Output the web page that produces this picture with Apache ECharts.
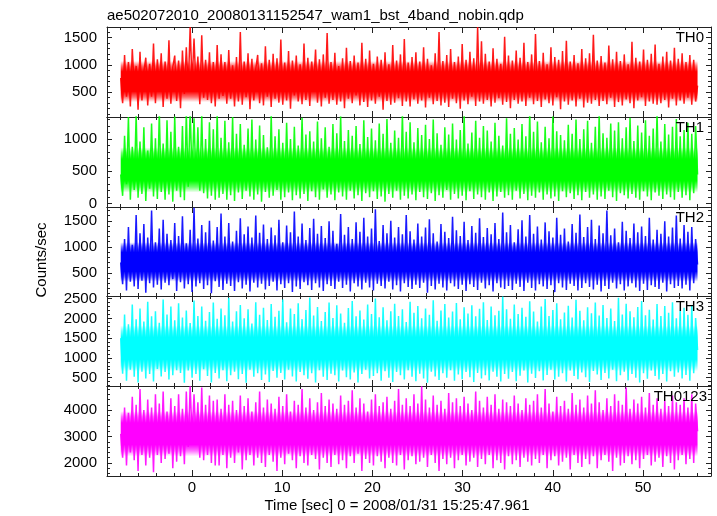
<!DOCTYPE html>
<html><head><meta charset="utf-8">
<script src="https://cdn.jsdelivr.net/npm/echarts@6/dist/echarts.min.js"></script>
<style>html,body{margin:0;padding:0;background:#fff}#c{width:717px;height:516px}</style>
</head><body><div id="c"></div>
<script>
// ---------- data ----------
const T_START = -7.9, T_END = 56.05;          // first / last time bin [s]
const X_MIN = -9.42, X_MAX = 57.54;           // x-axis extent [s]
const xMajorTicks = [0, 10, 20, 30, 40, 50];
const xMinorTicks = [-8,-6,-4,-2,2,4,6,8,12,14,16,18,22,24,26,28,32,34,36,38,42,44,46,48,52,54,56];

const panelNames = ['TH0', 'TH1', 'TH2', 'TH3', 'TH0123'];
const yRanges = [[48, 1690], [-53, 1340], [55, 1766], [288, 2566], [1506, 4912]];
const yMajorTicks = [[500,1000,1500],[0,500,1000],[500,1000,1500],[500,1000,1500,2000,2500],[2000,3000,4000]];
const yMinorStep = [100, 100, 100, 100, 200];

// dense (saturated) core of each light curve, with faded edges
const coreT = [-7.9, 56.05];
const coreLo = [[320,320],[170,170],[330,330],[660,660],[2250,2250]];
const coreHi = [[1070,1070],[870,870],[1090,1090],[1820,1820],[3960,3960]];

// sampled counts/sec traces
const th0 = [760,300,1180,420,1050,240,1290,610,980,180,
 1240,350,870,1130,260,1020,420,1390,300,1100,
 520,1210,230,1060,380,1450,290,960,1170,340,
 1080,210,1260,470,1320,560,1690,650,1480,600,
 1150,280,1540,400,1090,360,1230,300,1050,240,
 1360,380,1190,430,1050,290,1270,380,990,240,
 1140,330,1600,270,1060,410,1210,190,1110,350,
 920,1180,300,1030,260,1340,420,1090,230,1200,
 380,1120,310,1460,270,1040,350,1250,200,1080,
 440,1170,330,1010,280,1390,360,1130,250,1060,
 620,1280,310,1100,240,1190,400,1580,290,1050,
 360,1220,270,980,330,1120,210,1310,380,1070,
 300,1170,440,1040,260,1400,320,1110,230,1260,
 350,1020,290,1150,420,1090,180,1230,340,1010,
 270,1360,310,1080,390,1190,250,1470,330,1040,
 240,1140,370,1230,290,1060,350,1320,220,1110,
 400,990,280,1210,340,1600,260,1070,310,1180,
 230,1290,380,1050,300,1150,200,1380,350,1090,
 280,1240,420,1120,250,1690,330,1430,290,1200,
 360,1060,240,1300,310,1110,390,1020,270,1510,
 320,1170,210,1080,360,1260,290,1130,330,1400,
 250,1050,400,1190,280,1560,340,1070,230,1220,
 370,1010,300,1320,260,1140,410,1090,190,1250,
 330,1440,270,1060,350,1180,240,1030,380,1290,
 220,1120,310,1210,290,1550,360,1080,250,1160,
 340,1040,280,1350,400,1100,230,1240,320,1070,
 260,1190,370,1010,300,1420,210,1130,350,1060,
 410,1280,250,1090,330,1200,290,1370,270,1020,
 300,1150,360,1240,220,1080,380,1310,260,1110,
 350,1210,290,1050,400,1180,270,1090,330,620];
const th1 = [450,120,1050,300,1340,60,880,210,1380,90,
 960,150,1180,40,820,230,1240,110,1010,70,
 1420,180,930,60,1290,140,1110,30,1350,200,
 880,100,1200,50,1400,260,1450,420,1320,350,
 1180,200,1380,160,1000,80,1260,120,1150,60,
 1390,90,1020,150,1280,60,950,130,1340,40,
 1080,170,1230,70,910,200,1160,110,1300,60,
 990,140,1210,30,1060,180,870,90,1370,120,
 1040,210,1150,60,940,100,1250,170,1000,50,
 1190,130,900,80,1330,150,1070,40,1120,190,
 960,100,1270,60,1010,220,1180,90,880,140,
 1230,50,1090,170,1350,110,970,60,1140,200,
 1050,80,1200,130,920,40,1290,160,1030,100,
 1160,190,980,70,1240,110,1080,30,1310,150,
 940,90,1130,200,1020,60,1390,120,1110,80,
 1260,140,950,50,1170,180,1060,100,1220,70,
 1000,160,1300,40,1090,130,910,90,1180,210,
 1070,60,1240,150,990,80,1140,120,1360,50,
 930,190,1100,70,1280,140,1020,100,1200,60,
 1130,170,960,40,1250,110,1050,180,900,90,
 1320,130,1080,60,1170,200,990,80,1230,150,
 1040,50,1400,120,1110,90,1270,170,950,60,
 1190,140,1010,80,1350,110,1120,40,1060,190,
 980,100,1220,160,1080,70,1300,130,1000,50,
 1150,180,1280,90,940,140,1190,60,1370,110,
 1090,70,1020,200,1240,100,1130,40,1260,160,
 1010,130,1180,80,1330,150,970,90,1210,60,
 1100,190,1290,110,1050,50,1160,170,1400,120,
 960,70,1230,140,1070,100,1190,60,1310,180,
 1040,90,1140,130,1250,50,1080,160,1200,450];
const th2 = [700,280,1150,160,1380,330,1040,240,1610,190,
 1260,350,1440,120,1180,300,1700,220,1090,270,
 1350,180,1520,310,1250,260,1130,380,1460,150,
 1210,320,1590,200,1070,280,1330,130,1750,240,
 1160,300,1420,190,1280,260,1500,110,1120,340,
 1380,230,1640,170,1200,290,1460,250,1100,150,
 1310,320,1550,200,1240,270,1390,140,1180,310,
 1600,220,1270,290,1430,180,1150,250,1370,330,
 1220,160,1520,280,1090,210,1410,300,1280,130,
 1680,240,1200,190,1450,320,1130,260,1360,170,
 1540,300,1250,220,1400,150,1170,280,1490,250,
 1310,190,1060,330,1630,210,1230,270,1380,140,
 1150,300,1470,240,1290,180,1560,310,1200,220,
 1350,160,1720,290,1110,250,1420,200,1260,330,
 1500,180,1180,260,1380,140,1240,300,1610,230,
 1300,190,1140,270,1450,210,1200,310,1370,120,
 1530,250,1260,180,1100,290,1440,220,1290,160,
 1170,300,1580,240,1320,190,1210,270,1480,150,
 1130,280,1400,230,1270,170,1550,310,1190,200,
 1360,260,1240,140,1460,300,1150,220,1660,190,
 1280,250,1420,170,1090,290,1340,230,1510,150,
 1200,310,1610,210,1250,160,1390,280,1140,240,
 1470,190,1300,260,1180,130,1560,300,1230,220,
 1350,170,1100,290,1440,250,1270,160,1620,210,
 1190,300,1380,230,1520,180,1150,270,1410,140,
 1260,250,1700,190,1220,310,1350,200,1090,280,
 1480,160,1310,240,1170,300,1450,220,1280,150,
 1390,290,1210,170,1560,260,1140,230,1330,190,
 1250,310,1490,140,1200,280,1370,210,1600,250,
 1160,200,1420,270,1290,160,1380,300,1150,660];
const th3 = [1500,600,2100,420,1850,700,2350,520,1980,380,
 2250,650,1920,480,2420,590,2050,400,2180,720,
 1890,530,2480,640,2100,450,2300,560,1950,690,
 2380,620,2020,370,2200,680,1880,500,2450,590,
 2060,420,2300,710,1940,540,2160,380,2400,620,
 1990,480,2250,690,2080,410,2520,560,1920,650,
 2180,460,2340,590,2000,370,2230,700,1870,520,
 2410,610,2090,440,2270,580,1960,390,2360,670,
 2040,500,2190,620,2480,450,1900,700,2250,530,
 2110,400,2380,640,1980,560,2210,470,2530,610,
 2070,380,2290,690,1930,520,2160,440,2400,600,
 2010,560,2330,400,2120,680,1890,510,2260,450,
 2440,630,2050,380,2200,590,1970,700,2350,480,
 2110,540,2500,610,2030,420,2280,660,1950,500,
 2180,390,2370,640,2060,560,2230,450,1910,690,
 2420,520,2140,410,2310,600,2000,480,2250,370,
 2090,650,2460,530,1940,440,2200,610,2360,500,
 2020,690,2170,420,2390,580,1980,460,2280,640,
 2120,510,2330,390,2050,620,2240,480,2410,560,
 1960,430,2300,650,2080,520,2190,400,2550,590,
 2230,470,1990,640,2350,410,2110,550,2270,680,
 2040,380,2430,600,2170,490,1920,660,2300,430,
 2490,570,2060,700,2210,450,2380,520,1980,610,
 2150,400,2320,680,2020,540,2470,460,2190,630,
 1950,510,2280,390,2130,670,2400,580,2070,440,
 2340,620,2010,480,2250,700,1930,410,2520,560,
 2100,650,2370,430,2180,590,2030,500,2290,380,
 2440,610,2080,470,2220,680,1970,540,2360,450,
 2060,590,2310,400,2140,660,2410,520,2000,630,
 2200,480,2270,570,2090,420,2330,610,2010,1200];
const th0123 = [3100,2200,4100,1900,3900,2400,4500,2100,4200,1700,
 4800,2300,4000,1900,4400,2200,4100,1650,4600,2300,
 4250,2000,4700,2150,3950,2350,4450,1800,4150,2050,
 4600,2250,4050,1950,4700,2600,4900,3000,4600,2850,
 4300,2200,4850,2100,4200,2300,4550,2000,4350,1900,
 4400,1900,4050,2300,4600,1800,4200,2200,4350,2000,
 4000,2400,4550,1750,4150,2100,4450,2300,3950,1900,
 4300,2200,4700,2000,4100,1850,4400,2300,4250,2050,
 4050,1700,4500,2200,4150,1950,4600,2350,3950,2100,
 4350,1800,4200,2250,4800,2000,4100,1900,4450,2300,
 4000,2150,4300,1750,4650,2200,4150,2000,4400,1850,
 4250,2300,4050,1950,4550,2100,4200,1800,4350,2250,
 4750,2000,4100,2350,4450,1700,4250,2150,3950,2000,
 4400,1900,4600,2250,4150,2050,4300,1800,4500,2200,
 4050,2000,4350,1900,4800,2300,4200,1750,4450,2100,
 4150,2250,4600,1950,4250,2050,4900,2200,4400,1850,
 4100,2300,4550,2000,4200,1700,4350,2150,4050,1950,
 4650,2200,4300,1800,4450,2100,4150,2300,4500,1900,
 4250,2050,4000,2200,4700,1850,4350,2150,4100,1950,
 4500,2300,4200,1800,4600,2100,4050,2000,4400,1750,
 4300,2250,4150,1950,4550,2100,4250,1850,4000,2200,
 4450,2050,4200,1900,4350,2150,4600,2000,4100,2300,
 4800,1800,4250,2100,3950,2250,4500,1900,4150,2050,
 4350,2200,4050,1750,4650,2300,4200,2000,4400,1850,
 4100,2150,4550,1950,4250,2250,4750,1800,4300,2100,
 4000,2300,4450,2050,4150,1700,4600,2200,4350,1900,
 4200,2000,4850,2250,4050,1950,4400,2100,4250,1800,
 4500,2150,4100,2300,4650,1900,4200,2050,4450,2200,
 4050,1850,4350,2250,4150,2000,4550,1750,4300,2100,
 4200,2300,4450,1950,4100,2150,4600,2000,4250,3200];
const traces = [th0, th1, th2, th3, th0123];

const titleText = 'ae502072010_20080131152547_wam1_bst_4band_nobin.qdp';
const yTitle = 'Counts/sec';
const xTitle = 'Time [sec] 0 = 2008/01/31 15:25:47.961';

// ---------- styling / layout ----------
const colors = ['#ff0000', '#00ff00', '#0000ff', '#00ffff', '#ff00ff'];
const FONT = '"Liberation Sans", Arial, Helvetica, sans-serif';
const gridTops = [27, 117, 207, 296, 386];
const gridBottomEdge = 476;
const GL = 107, GW = 604;
const FRAME = '#222';

function rgba(hex, a) {
  const r = parseInt(hex.substr(1,2),16), g = parseInt(hex.substr(3,2),16), b = parseInt(hex.substr(5,2),16);
  return 'rgba(' + r + ',' + g + ',' + b + ',' + a + ')';
}
function bandRenderer(color) {
  return function (params, api) {
    if (params.dataIndexInside !== 0) return null;
    const n = params.dataInsideLength;
    const top = [], bot = [];
    for (let i = 0; i < n; i++) {
      top.push(api.coord([api.value(0, i), api.value(2, i)]));
      bot.push(api.coord([api.value(0, i), api.value(1, i)]));
    }
    const pts = top.concat(bot.reverse());
    return { type: 'polygon', shape: { points: pts },
      style: { fill: new echarts.graphic.LinearGradient(0, 0, 0, 1, [
        { offset: 0, color: rgba(color, 0.0) }, { offset: 0.12, color: rgba(color, 0.55) },
        { offset: 0.26, color: rgba(color, 1) }, { offset: 0.74, color: rgba(color, 1) },
        { offset: 0.88, color: rgba(color, 0.55) }, { offset: 1, color: rgba(color, 0.0) }]) } };
  };
}

const grids = [], xAxes = [], yAxes = [], series = [], graphics = [];
for (let k = 0; k < 5; k++) {
  const top = gridTops[k];
  const h = (k < 4 ? gridTops[k + 1] : gridBottomEdge) - top;
  grids.push({ left: GL, top: top, width: GW, height: h, show: false, containLabel: false });
  const [ymin, ymax] = yRanges[k];
  const yMinor = [];
  for (let v = Math.ceil(ymin / yMinorStep[k]) * yMinorStep[k]; v < ymax; v += yMinorStep[k]) {
    if (yMajorTicks[k].indexOf(v) < 0) yMinor.push(v);
  }
  const base = { gridIndex: k, type: 'value', min: X_MIN, max: X_MAX, splitLine: { show: false } };
  const lineOn = { show: true, onZero: false, lineStyle: { color: FRAME, width: 1 } };
  const lineOff = { show: false, onZero: false };
  const plain = v => String(v);
  xAxes.push(Object.assign({}, base, { position: 'bottom', axisLine: lineOn,
    axisTick: { show: true, inside: true, length: 6, customValues: xMajorTicks, lineStyle: { color: FRAME } },
    axisLabel: k === 4 ? { show: true, customValues: xMajorTicks, formatter: plain, margin: 4, color: '#000', fontSize: 15, fontFamily: FONT } : { show: false } }));
  xAxes.push(Object.assign({}, base, { position: 'bottom', axisLine: lineOff,
    axisTick: { show: true, inside: true, length: 3, customValues: xMinorTicks, lineStyle: { color: FRAME } }, axisLabel: { show: false } }));
  xAxes.push(Object.assign({}, base, { position: 'top', axisLine: lineOn,
    axisTick: { show: true, inside: true, length: 6, customValues: xMajorTicks, lineStyle: { color: FRAME } }, axisLabel: { show: false } }));
  xAxes.push(Object.assign({}, base, { position: 'top', axisLine: lineOff,
    axisTick: { show: true, inside: true, length: 3, customValues: xMinorTicks, lineStyle: { color: FRAME } }, axisLabel: { show: false } }));
  const ybase = { gridIndex: k, type: 'value', min: ymin, max: ymax, splitLine: { show: false } };
  yAxes.push(Object.assign({}, ybase, { position: 'left', axisLine: lineOn,
    axisTick: { show: true, inside: true, length: 5, customValues: yMajorTicks[k], lineStyle: { color: FRAME } },
    axisLabel: { show: true, customValues: yMajorTicks[k], formatter: plain, margin: 10, color: '#000', fontSize: 15, fontFamily: FONT } }));
  yAxes.push(Object.assign({}, ybase, { position: 'left', axisLine: lineOff,
    axisTick: { show: true, inside: true, length: 3, customValues: yMinor, lineStyle: { color: FRAME } }, axisLabel: { show: false } }));
  yAxes.push(Object.assign({}, ybase, { position: 'right', axisLine: lineOn,
    axisTick: { show: true, inside: true, length: 5, customValues: yMajorTicks[k], lineStyle: { color: FRAME } }, axisLabel: { show: false } }));
  yAxes.push(Object.assign({}, ybase, { position: 'right', axisLine: lineOff,
    axisTick: { show: true, inside: true, length: 3, customValues: yMinor, lineStyle: { color: FRAME } }, axisLabel: { show: false } }));

  const xi = 4 * k, yi = 4 * k;
  const c = colors[k];
  series.push({ type: 'custom', xAxisIndex: xi, yAxisIndex: yi, silent: true, clip: true, z: 1,
    renderItem: bandRenderer(c), encode: { x: 0, y: [1, 2] },
    data: coreT.map((t, i) => [t, coreLo[k][i], coreHi[k][i]]) });
  const tr = traces[k];
  const dt = (T_END - T_START) / (tr.length - 1);
  series.push({ type: 'line', xAxisIndex: xi, yAxisIndex: yi, symbol: 'none', silent: true, clip: true,
    lineStyle: { color: c, width: 1.5, opacity: 0.9 }, data: tr.map((v, i) => [T_START + i * dt, v]), z: 2 });

  graphics.push({ type: 'text', x: k === 4 ? 707 : 704, y: top + 10.5, z: 10,
    style: { text: panelNames[k], fill: '#000', font: '15px ' + FONT, textAlign: 'right', textVerticalAlign: 'middle', align: 'right', verticalAlign: 'middle' } });
}

graphics.push({ type: 'text', x: 107, y: 15.5,
  style: { text: titleText, fill: '#000', font: '15px ' + FONT, textAlign: 'left', textVerticalAlign: 'middle', align: 'left', verticalAlign: 'middle' } });
graphics.push({ type: 'text', x: 41.5, y: 260, rotation: Math.PI / 2,
  style: { text: yTitle, fill: '#000', font: '15px ' + FONT, textAlign: 'center', textVerticalAlign: 'middle', align: 'center', verticalAlign: 'middle' } });
graphics.push({ type: 'text', x: 397, y: 506,
  style: { text: xTitle, fill: '#000', font: '15px ' + FONT, textAlign: 'center', textVerticalAlign: 'middle', align: 'center', verticalAlign: 'middle' } });

const chart = echarts.init(document.getElementById('c'), null, { renderer: 'canvas' });
chart.setOption({
  animation: false,
  backgroundColor: '#fff',
  grid: grids, xAxis: xAxes, yAxis: yAxes, series: series,
  graphic: { elements: graphics }
});
</script></body></html>
